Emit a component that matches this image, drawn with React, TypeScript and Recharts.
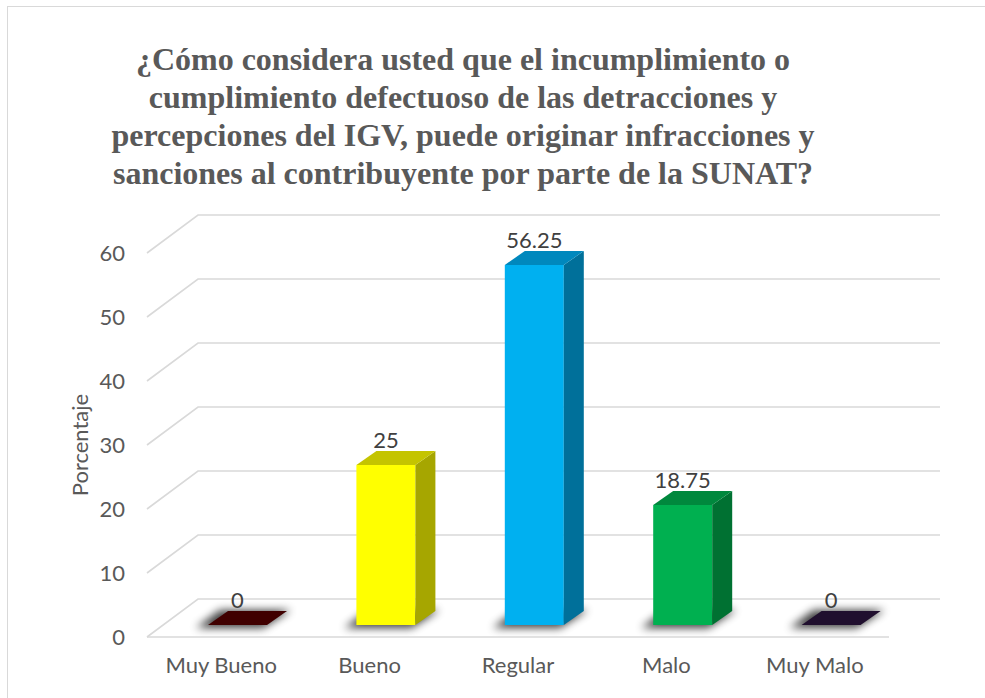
import { Bar, BarChart, CartesianGrid, LabelList, XAxis, YAxis } from "recharts"

const categories = ["Muy Bueno", "Bueno", "Regular", "Malo", "Muy Malo"]
const values = [0, 25, 56.25, 18.75, 0]
const yTicks = [0, 10, 20, 30, 40, 50, 60]

const titleLines = [
  "¿Cómo considera usted que el incumplimiento o",
  "cumplimiento defectuoso de las detracciones y",
  "percepciones del IGV, puede originar infracciones y",
  "sanciones al contribuyente por parte de la SUNAT?",
]

// faces of each 3d bar
const frontColors = ["#4a0000", "#ffff00", "#00b0f0", "#00b050", "#2a1640"]
const topColors = ["#400000", "#c4c400", "#0088bd", "#00883d", "#200f2e"]
const sideColors = ["#300000", "#a6a600", "#00709a", "#007132", "#180a22"]

const data = categories.map((name, i) => ({ name, value: values[i] }))

// floor depth (wall offset) and bar depth
const WALL_DX = 51
const WALL_DY = -38
const BAR_SHIFT_X = 16
const BAR_SHIFT_Y = -12
const BAR_DX = 20
const BAR_DY = -14

const GRID = "#d9d9d9"
const FONT = "Lato, sans-serif"

function gridLine(props: any) {
  const { x1, x2, y1, index } = props
  const d = `M${x1},${y1} L${x1 + WALL_DX},${y1 + WALL_DY} L${x2 + WALL_DX},${y1 + WALL_DY}`
  return <path key={`g${index}`} d={d} fill="none" stroke={GRID} strokeWidth={1.6} />
}

function Bar3D(props: any) {
  const { x, y, width, height, index } = props
  const fx = x + BAR_SHIFT_X
  const fy = y + BAR_SHIFT_Y
  const bottom = y + height + BAR_SHIFT_Y
  const w = width
  const fid = `shadow${index}`
  const foot = `M${fx - 12},${bottom + 3} L${fx + w - 4},${bottom + 3} L${fx + w + BAR_DX + 4},${bottom + BAR_DY - 1} L${fx + BAR_DX - 8},${bottom + BAR_DY - 1} Z`
  return (
    <g>
      <defs>
        <filter id={fid} x="-50%" y="-200%" width="200%" height="500%">
          <feGaussianBlur stdDeviation={4} />
        </filter>
      </defs>
      <path d={foot} fill="#000" opacity={0.75} filter={`url(#${fid})`} />
      {height > 0 && <rect x={fx} y={fy} width={w} height={bottom - fy} fill={frontColors[index]} />}
      {height > 0 && (
        <path
          d={`M${fx + w},${fy} L${fx + w + BAR_DX},${fy + BAR_DY} L${fx + w + BAR_DX},${bottom + BAR_DY} L${fx + w},${bottom} Z`}
          fill={sideColors[index]}
        />
      )}
      <path
        d={`M${fx},${fy} L${fx + BAR_DX},${fy + BAR_DY} L${fx + w + BAR_DX},${fy + BAR_DY} L${fx + w},${fy} Z`}
        fill={topColors[index]}
      />
    </g>
  )
}

function BarLabel(props: any) {
  const vb = props.viewBox || props
  const { x, y, width } = vb
  return (
    <text
      x={x + width / 2 + BAR_SHIFT_X}
      y={y + BAR_SHIFT_Y + BAR_DY - 3}
      textAnchor="middle"
      fill="#404040"
      fontSize={22}
      fontFamily={FONT}
    >
      {props.value}
    </text>
  )
}

export default function App() {
  return (
    <div
      style={{
        position: "absolute",
        left: 0,
        top: 0,
        width: 985,
        height: 698,
        overflow: "hidden",
        background: "#fff",
      }}
    >
      <div
        style={{
          position: "absolute",
          left: 7,
          top: 6,
          width: 1000,
          height: 720,
          border: `1.5px solid ${GRID}`,
        }}
      />
      <div
        style={{
          position: "absolute",
          left: 0,
          top: 40,
          width: 926,
          textAlign: "center",
          fontFamily: "'Liberation Serif', 'Times New Roman', serif",
          fontWeight: "bold",
          fontSize: 32,
          lineHeight: "38px",
          color: "#595959",
          whiteSpace: "nowrap",
        }}
      >
        {titleLines.map((l) => (
          <div key={l}>{l}</div>
        ))}
      </div>
      <div style={{ position: "absolute", left: 0, top: 0 }}>
        <BarChart width={985} height={698} data={data} margin={{ top: 253, right: 96, bottom: 31, left: 87 }}>
          <CartesianGrid vertical={false} horizontal={gridLine} />
          <XAxis
            dataKey="name"
            height={30}
            tickLine={false}
            axisLine={{ stroke: GRID, strokeWidth: 1.6 }}
            tickMargin={14}
            tick={{ fill: "#595959", fontSize: 22, fontFamily: FONT }}
          />
          <YAxis
            width={60}
            domain={[0, 60]}
            ticks={yTicks}
            axisLine={false}
            tickLine={false}
            tickMargin={16}
            tick={{ fill: "#595959", fontSize: 22, fontFamily: FONT }}
            label={{
              value: "Porcentaje",
              angle: -90,
              position: "insideLeft",
              offset: -7,
              style: { textAnchor: "middle", fill: "#595959", fontSize: 22, fontFamily: FONT },
            }}
          />
          <Bar dataKey="value" barSize={59} isAnimationActive={false} shape={Bar3D}>
            <LabelList dataKey="value" content={BarLabel} />
          </Bar>
        </BarChart>
      </div>
    </div>
  )
}
